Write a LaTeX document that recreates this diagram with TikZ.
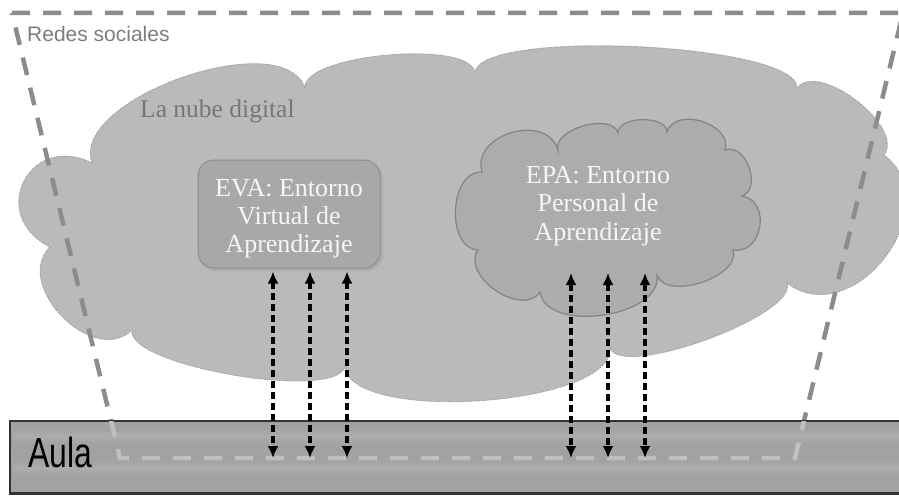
\documentclass[tikz,border=0pt]{standalone}
\usepackage{fontspec}
\setmainfont{Liberation Serif}
\newfontfamily\arialf{Liberation Sans}
\usetikzlibrary{calc,arrows.meta}
\definecolor{cloudbig}{RGB}{186,186,186}
\definecolor{cloudedge}{RGB}{155,155,155}
\definecolor{epafill}{RGB}{172,172,172}
\definecolor{epaedge}{RGB}{132,132,132}
\definecolor{evafill}{RGB}{168,168,168}
\definecolor{evaedge}{RGB}{140,140,140}
\definecolor{trapcol}{RGB}{140,140,140}
\definecolor{traplight}{RGB}{192,192,192}
\definecolor{bandfill}{RGB}{162,162,162}
\definecolor{bandlight}{RGB}{188,188,188}
\definecolor{txtwhite}{RGB}{246,246,246}
\definecolor{redesgray}{RGB}{125,125,125}
\definecolor{nubegray}{RGB}{118,118,118}
\newcommand\bump[3]{.. controls ($(#1)!#3!90:(#2)$) and ($(#2)!#3!-90:(#1)$) .. (#2)}
\tikzset{
  trapline/.style={line width=4.5pt, dash pattern=on 18pt off 13pt, draw=trapcol},
  evabox/.style={draw=evaedge, line width=1pt, fill=evafill, rounded corners=16pt,
                 minimum width=182pt, minimum height=108pt, inner sep=0pt},
  boxtext/.style={font=\fontsize{26}{28}\selectfont, text=txtwhite, align=center, inner sep=0pt},
  biarrow/.style={{Latex[length=12pt,width=11pt]}-{Latex[length=12pt,width=11pt]},
                  line width=3.4pt, dash pattern=on 7pt off 4pt, draw=black},
  bandbox/.style={draw=black!80, line width=1.5pt, fill=bandfill,
                  minimum width=892pt, minimum height=72pt, inner sep=0pt},
}
\begin{document}
\begin{tikzpicture}[x=1pt,y=-1pt]
\useasboundingbox (0,0) rectangle (899,495);
\clip (0,0) rectangle (899,495);
\fill[white] (0,0) rectangle (899,495);
% big cloud
\coordinate (d1) at (92,163);
\coordinate (d2) at (305,88);
\coordinate (d3) at (475,73);
\coordinate (d4) at (797,88);
\coordinate (d5) at (884,155);
\coordinate (d6) at (787,283);
\coordinate (d7) at (610,348);
\coordinate (d8) at (345,366);
\coordinate (d9) at (132,330);
\coordinate (d10) at (50,247);
\path[fill=cloudbig, draw=cloudedge, line width=0.8pt, dash pattern=on 1.5pt off 1pt]
  (d1) \bump{d1}{d2}{0.3} \bump{d2}{d3}{0.2} \bump{d3}{d4}{0.14}
  \bump{d4}{d5}{0.32} \bump{d5}{d6}{0.52} \bump{d6}{d7}{0.18}
  \bump{d7}{d8}{0.22} \bump{d8}{d9}{0.17} \bump{d9}{d10}{0.46}
  \bump{d10}{d1}{0.75} -- cycle;
\node[anchor=base west, font=\fontsize{25.5}{28}\selectfont, text=nubegray, inner sep=0pt]
  (nube) at (140,117) {La nube digital};
% trapezoid (redes sociales)
\coordinate (t1) at (12,13);
\coordinate (t2) at (903,13);
\coordinate (t3) at (795,458);
\coordinate (t4) at (120,458);
\draw[trapline] (t1) -- (t2) -- (t3) -- (t4) -- cycle;
\node[anchor=base west, font=\arialf\fontsize{21}{24}\selectfont, text=redesgray, inner sep=0pt]
  (redes) at (27,42) {Redes sociales};
% EVA box
\fill[black, opacity=0.08, rounded corners=17pt] (199,162) rectangle (383,271);
\node[evabox] (eva) at (289,214) {};
\begin{scope}
  \clip (198,160) rectangle (380,257);
  \node[boxtext] (evat) at (289,219) {EVA: Entorno\\Virtual de\\Aprendizaje};
\end{scope}
% EPA cloud
\coordinate (e1) at (482,172);
\coordinate (e2) at (558,150);
\coordinate (e3) at (618,133);
\coordinate (e4) at (667,132);
\coordinate (e5) at (725,150);
\coordinate (e6) at (742,196);
\coordinate (e7) at (733,250);
\coordinate (e8) at (657,275);
\coordinate (e9) at (540,292);
\coordinate (e10) at (478,250);
\path[fill=epafill, draw=epaedge, line width=1.2pt]
  (e1) \bump{e1}{e2}{0.5} \bump{e2}{e3}{0.35} \bump{e3}{e4}{0.35}
  \bump{e4}{e5}{0.45} \bump{e5}{e6}{0.45} \bump{e6}{e7}{0.55}
  \bump{e7}{e8}{0.35} \bump{e8}{e9}{0.36} \bump{e9}{e10}{0.42}
  \bump{e10}{e1}{0.42} -- cycle;
\node[boxtext, font=\fontsize{26}{28.5}\selectfont] (epat) at (598,206)
  {EPA: Entorno\\Personal de\\Aprendizaje};
\coordinate (epabottom) at (608,273);
% Aula band
\node[bandbox] (band) at (456,457) {};
\shade[top color=bandfill, bottom color=bandfill, middle color=bandlight, opacity=0.4]
  (13,428) rectangle (899,444);
\shade[top color=bandfill, bottom color=bandfill, middle color=bandlight, opacity=0.4]
  (13,460) rectangle (899,476);
\begin{scope}
  \clip (band.north west) rectangle (band.south east);
  \draw[trapline, draw=traplight] (t1) -- (t2) -- (t3) -- (t4) -- cycle;
\end{scope}
\draw[black!80, line width=1.5pt] (band.north west) rectangle (band.south east);
\node[anchor=base west, inner sep=0pt] (aula) at (28,467)
  {\scalebox{0.76}[1]{\arialf\fontsize{42}{46}\selectfont Aula}};
% arrows
\coordinate (a1) at (273,458);
\coordinate (a2) at (310,458);
\coordinate (a3) at (347,458);
\coordinate (b1) at (571,458);
\coordinate (b2) at (608,458);
\coordinate (b3) at (645,458);
\foreach \c in {a1,a2,a3} \draw[biarrow] ($(eva.south -| \c)+(0,3)$) -- (\c);
\foreach \c in {b1,b2,b3} \draw[biarrow] (epabottom -| \c) -- (\c);
\end{tikzpicture}
\end{document}
